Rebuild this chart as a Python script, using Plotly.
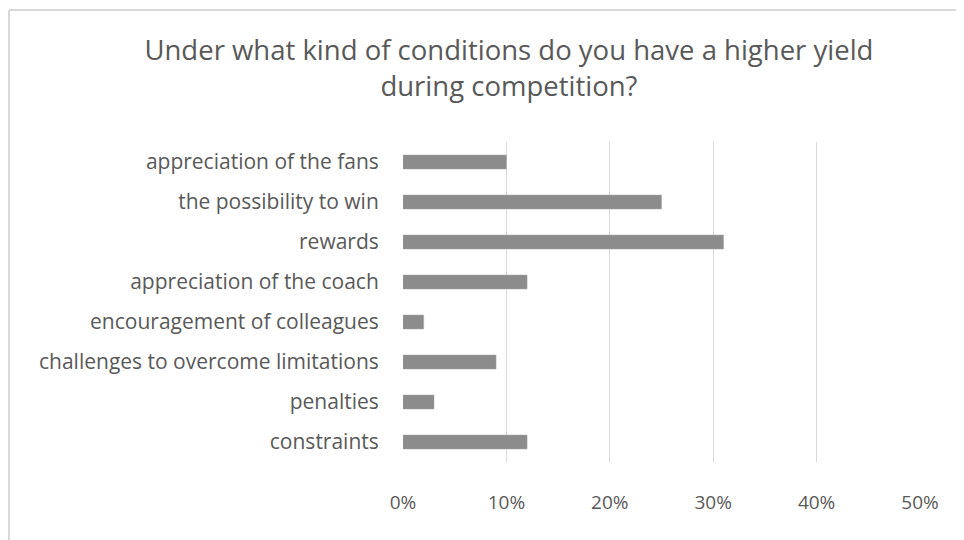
import plotly.graph_objects as go

# categories listed top to bottom as in the chart
categories = [
    'appreciation of the fans',
    'the possibility to win',
    'rewards',
    'appreciation of the coach',
    'encouragement of colleagues',
    'challenges to overcome limitations',
    'penalties',
    'constraints',
]
shares = [0.10, 0.25, 0.31, 0.12, 0.02, 0.09, 0.03, 0.12]
x_ticks = [0, 0.1, 0.2, 0.3, 0.4, 0.5]
x_tick_labels = ['0%', '10%', '20%', '30%', '40%', '50%']

TEXT = '#595959'
FONT = 'Open Sans'

# page has an 8px body margin, so the figure is a bit smaller than the window
W, H = 956, 532
L, T, PW, PH = 395, 134, 517, 320

fig = go.Figure()
fig.add_trace(go.Bar(
    x=shares, y=categories, orientation='h',
    marker=dict(color='#8c8c8c', line=dict(color='#a6a6a6', width=0.5)),
    width=0.35,
))

fig.update_layout(
    width=W, height=H,
    margin=dict(l=L, r=W - L - PW, t=T, b=H - T - PH),
    paper_bgcolor='white', plot_bgcolor='white',
    showlegend=False,
    title=dict(
        text='Under what kind of conditions do you have a higher yield<br>during competition?',
        x=0.524, xanchor='center', y=0.902, yanchor='middle',
        font=dict(family=FONT, size=27.5, color=TEXT),
    ),
    font=dict(family=FONT, color=TEXT),
)
fig.update_xaxes(
    range=[0, 0.5], tickvals=x_ticks, ticktext=x_tick_labels,
    showgrid=True, gridcolor='#d9d9d9', gridwidth=1,
    zeroline=False, showline=False,
    ticks='outside', ticklen=23, tickcolor='white',
    tickfont=dict(size=19, color=TEXT),
)
fig.update_yaxes(
    autorange='reversed', showgrid=False, showline=False, zeroline=False,
    ticks='outside', ticklen=19, tickcolor='white',
    tickfont=dict(size=21, color=TEXT),
)

# frame of the chart: only its left and top edges fall inside the picture
x_left = (1 - L) / PW
y_top = (T + PH - 2) / PH
frame = dict(color='#d9d9d9', width=2)
fig.add_shape(type='line', xref='paper', yref='paper',
              x0=x_left, x1=x_left, y0=-0.3, y1=y_top, line=frame)
fig.add_shape(type='line', xref='paper', yref='paper',
              x0=x_left, x1=(W + 10 - L) / PW, y0=y_top, y1=y_top, line=frame)

fig.write_html('out.html')
